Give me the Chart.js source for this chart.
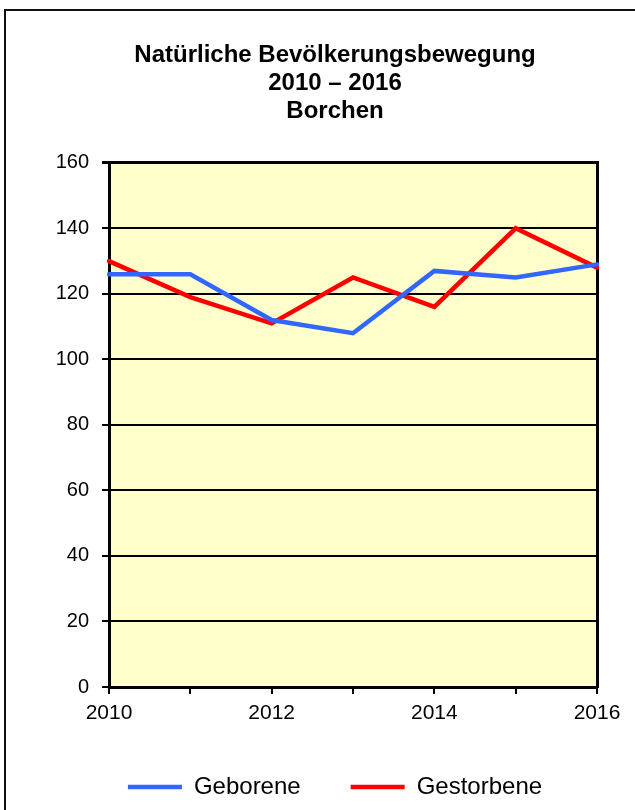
<!DOCTYPE html>
<html>
<head>
<meta charset="utf-8">
<script src="https://cdn.jsdelivr.net/npm/chart.js@4"></script>
<style>
    html, body { margin: 0; padding: 0; background: #fff; overflow: hidden; width: 635px; height: 810px; }
    #frame { position: absolute; left: 4px; top: 9px; border: 2px solid #111; }
    #popChart { display: block; }
</style>
</head>
<body>
<div id="frame"><canvas id="popChart" width="658" height="830"></canvas></div>
<script>
// Daten
const years = ['2010', '2011', '2012', '2013', '2014', '2015', '2016'];
const xTickLabels = ['2010', '', '2012', '', '2014', '', '2016'];
const geborene = [126, 126, 112, 108, 127, 125, 129];
const gestorbene = [130, 119, 111, 125, 116, 140, 128];
const yMin = 0;
const yMax = 160;
const yStep = 20;
const titleLines = ['Natürliche Bevölkerungsbewegung', '2010 – 2016', 'Borchen'];

const fontFamily = "'Liberation Sans', Arial, sans-serif";

// white page + yellow plot area
const plotBackground = {
    id: 'plotBackground',
    beforeDraw(chart) {
        const ctx = chart.ctx;
        const a = chart.chartArea;
        ctx.save();
        ctx.fillStyle = '#ffffff';
        ctx.fillRect(0, 0, chart.width, chart.height);
        ctx.fillStyle = '#FFFFCC';
        ctx.fillRect(a.left, a.top, a.right - a.left, a.bottom - a.top);
        ctx.restore();
    }
};

const popChart = new Chart(document.getElementById('popChart'), {
    type: 'line',
    data: {
        labels: years,
        datasets: [{
            label: 'Geborene',
            data: geborene,
            borderColor: '#3366FF',
            backgroundColor: '#3366FF',
            borderWidth: 4.5,
            borderCapStyle: 'round',
            pointRadius: 0,
            tension: 0,
            fill: false
        }, {
            label: 'Gestorbene',
            data: gestorbene,
            borderColor: '#FF0000',
            backgroundColor: '#FF0000',
            borderWidth: 4.5,
            borderCapStyle: 'round',
            pointRadius: 0,
            tension: 0,
            fill: false
        }]
    },
    options: {
        responsive: false,
        animation: false,
        layout: {
            padding: { left: 0, right: 0, top: 0, bottom: 32 }
        },
        plugins: {
            title: {
                display: true,
                text: titleLines,
                color: '#000',
                font: { family: fontFamily, size: 24, weight: 'bold', lineHeight: 1.15 },
                padding: { top: 31, bottom: 38 }
            },
            legend: {
                position: 'bottom',
                labels: {
                    usePointStyle: true,
                    pointStyle: 'line',
                    pointStyleWidth: 54,
                    color: '#000',
                    padding: 50,
                    font: { family: fontFamily, size: 24 }
                }
            },
            tooltip: { enabled: false }
        },
        scales: {
            x: {
                afterFit: function(scale) {
                    scale.height = 38;
                },
                grid: {
                    drawOnChartArea: false,
                    drawTicks: true,
                    tickLength: 7,
                    color: '#000',
                    lineWidth: 2
                },
                border: { display: true, color: '#000', width: 3 },
                ticks: {
                    autoSkip: false,
                    maxRotation: 0,
                    color: '#000',
                    padding: 7,
                    font: { family: fontFamily, size: 21 },
                    callback: function(value, index) {
                        return xTickLabels[index];
                    }
                }
            },
            y: {
                min: yMin,
                max: yMax,
                afterFit: function(scale) {
                    scale.width = 103;
                },
                grid: {
                    color: '#000',
                    lineWidth: ctx => (ctx.tick && ctx.tick.value === yMax ? 3 : 2),
                    drawTicks: true,
                    tickLength: 7
                },
                border: { display: true, color: '#000', width: 3 },
                ticks: {
                    stepSize: yStep,
                    color: '#000',
                    padding: 13,
                    font: { family: fontFamily, size: 20 }
                }
            },
            // right frame of the plot area, no labels
            yRight: {
                position: 'right',
                min: yMin,
                max: yMax,
                afterFit: function(scale) {
                    scale.width = 67;
                },
                grid: { display: false, drawOnChartArea: false },
                border: { display: true, color: '#000', width: 3 },
                ticks: { display: false }
            }
        }
    },
    plugins: [plotBackground]
});
</script>
</body>
</html>
